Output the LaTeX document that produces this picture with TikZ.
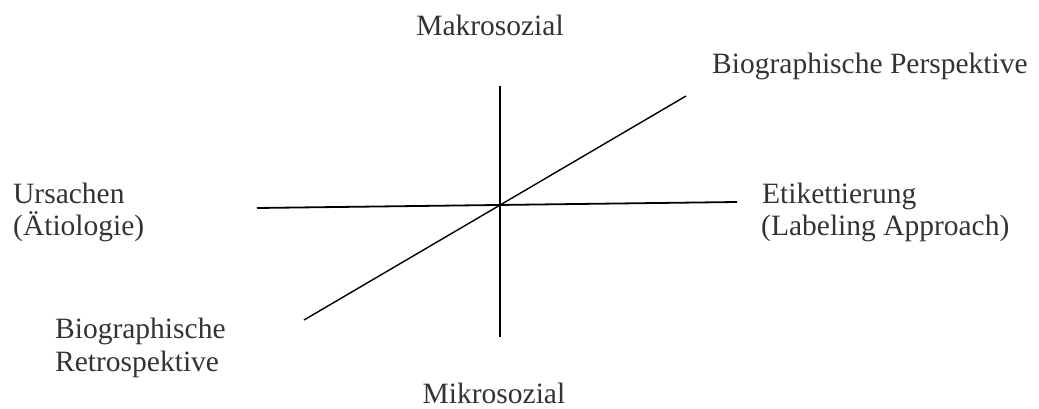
\documentclass[tikz,border=0pt]{standalone}
\usepackage{fontspec}
\setmainfont{Liberation Serif}
\begin{document}
\begin{tikzpicture}[x=1pt,y=-1pt,
  lbl/.style={inner sep=0pt,font=\fontsize{29.5}{34}\selectfont,text=black!80},
  axis/.style={line width=1.4pt,black}]
\useasboundingbox (0,0) rectangle (1039,409);
\coordinate (vt) at (500,86);
\coordinate (vb) at (500,337);
\coordinate (hl) at (257,208);
\coordinate (hr) at (737,202);
\coordinate (dl) at (304,320);
\coordinate (dr) at (686,96);
\draw[axis] (vt) -- (vb);
\draw[axis,line width=1.8pt] (hl) -- (hr);
\draw[axis] (dl) -- (dr);
\node[lbl,anchor=base] (makro) at (490,36) {Makrosozial};
\node[lbl,anchor=base west] (bp) at (712,74) {Biographische Perspektive};
\node[lbl,anchor=base west] (urs) at (13,204) {Ursachen};
\node[lbl,anchor=base west] (aet) at (13,235) {(Ätiologie)};
\node[lbl,anchor=base west] (etik) at (762,203) {Etikettierung};
\node[lbl,anchor=base west] (lab) at (761,235) {(Labeling Approach)};
\node[lbl,anchor=base west] (bio) at (55,338) {Biographische};
\node[lbl,anchor=base west] (retro) at (55,371) {Retrospektive};
\node[lbl,anchor=base] (mikro) at (494,403) {Mikrosozial};
\end{tikzpicture}
\end{document}
